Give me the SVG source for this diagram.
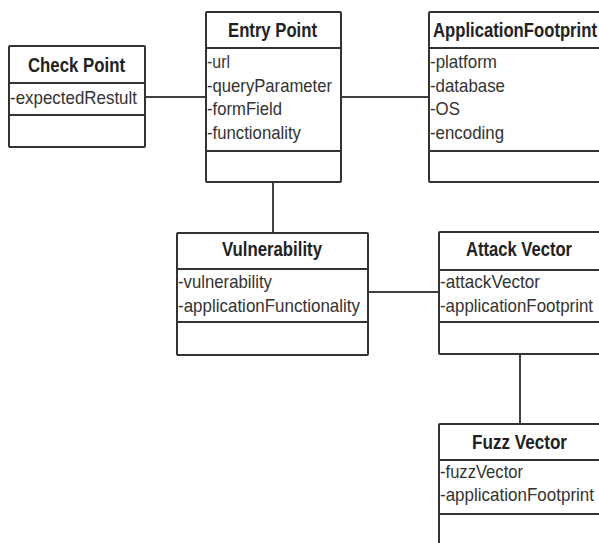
<svg xmlns="http://www.w3.org/2000/svg" width="599" height="543" viewBox="0 0 599 543">
  <style>
    .box { fill: #ffffff; stroke: #333333; stroke-width: 2; }
    .div { stroke: #333333; stroke-width: 2; fill: none; }
    .conn { stroke: #404040; stroke-width: 2; fill: none; }
    .title { font-family: "Liberation Sans", Arial, sans-serif; font-weight: bold; font-size: 20px; fill: #222222; }
    .attr { font-family: "Liberation Sans", Arial, sans-serif; font-size: 19px; fill: #333333; }
  </style>
  <rect width="599" height="543" fill="#ffffff"/>

  <!-- associations -->
  <g id="connectors">
    <line class="conn" x1="145" y1="97" x2="206" y2="97"/>
    <line class="conn" x1="341" y1="97" x2="429" y2="97"/>
    <line class="conn" x1="273" y1="182" x2="273" y2="233"/>
    <line class="conn" x1="368" y1="292" x2="439" y2="292"/>
    <line class="conn" x1="520" y1="354" x2="520" y2="424"/>
  </g>

  <g id="check-point">
    <rect class="box" x="9" y="46" width="136" height="101" rx="1"/>
    <line class="div" x1="9" y1="83" x2="145" y2="83"/>
    <line class="div" x1="9" y1="115" x2="145" y2="115"/>
    <text class="title" x="28" y="71.5" textLength="97" lengthAdjust="spacingAndGlyphs">Check Point</text>
    <text class="attr" x="10" y="104" textLength="127" lengthAdjust="spacingAndGlyphs">-expectedRestult</text>
  </g>

  <g id="entry-point">
    <rect class="box" x="206" y="12" width="135" height="170" rx="1"/>
    <line class="div" x1="206" y1="48" x2="341" y2="48"/>
    <line class="div" x1="206" y1="151" x2="341" y2="151"/>
    <text class="title" x="228" y="36.5" textLength="89" lengthAdjust="spacingAndGlyphs">Entry Point</text>
    <text class="attr" x="207" y="68" textLength="23" lengthAdjust="spacingAndGlyphs">-url</text>
    <text class="attr" x="207" y="91.5" textLength="125" lengthAdjust="spacingAndGlyphs">-queryParameter</text>
    <text class="attr" x="207" y="115" textLength="75" lengthAdjust="spacingAndGlyphs">-formField</text>
    <text class="attr" x="207" y="138.5" textLength="94" lengthAdjust="spacingAndGlyphs">-functionality</text>
  </g>

  <g id="application-footprint">
    <rect class="box" x="429" y="12" width="180" height="170" rx="1"/>
    <line class="div" x1="429" y1="48" x2="609" y2="48"/>
    <line class="div" x1="429" y1="151" x2="609" y2="151"/>
    <text class="title" x="433" y="36.5" textLength="164" lengthAdjust="spacingAndGlyphs">ApplicationFootprint</text>
    <text class="attr" x="430" y="68" textLength="67" lengthAdjust="spacingAndGlyphs">-platform</text>
    <text class="attr" x="430" y="91.5" textLength="75" lengthAdjust="spacingAndGlyphs">-database</text>
    <text class="attr" x="430" y="115" textLength="30" lengthAdjust="spacingAndGlyphs">-OS</text>
    <text class="attr" x="430" y="138.5" textLength="74" lengthAdjust="spacingAndGlyphs">-encoding</text>
  </g>

  <g id="vulnerability">
    <rect class="box" x="177" y="233" width="191" height="122" rx="1"/>
    <line class="div" x1="177" y1="269" x2="368" y2="269"/>
    <line class="div" x1="177" y1="322" x2="368" y2="322"/>
    <text class="title" x="222" y="256" textLength="100" lengthAdjust="spacingAndGlyphs">Vulnerability</text>
    <text class="attr" x="178" y="288" textLength="94" lengthAdjust="spacingAndGlyphs">-vulnerability</text>
    <text class="attr" x="178" y="311.5" textLength="182" lengthAdjust="spacingAndGlyphs">-applicationFunctionality</text>
  </g>

  <g id="attack-vector">
    <rect class="box" x="439" y="232" width="170" height="122" rx="1"/>
    <line class="div" x1="439" y1="270" x2="609" y2="270"/>
    <line class="div" x1="439" y1="322" x2="609" y2="322"/>
    <text class="title" x="466" y="256" textLength="106" lengthAdjust="spacingAndGlyphs">Attack Vector</text>
    <text class="attr" x="440" y="288" textLength="100" lengthAdjust="spacingAndGlyphs">-attackVector</text>
    <text class="attr" x="440" y="311.5" textLength="153" lengthAdjust="spacingAndGlyphs">-applicationFootprint</text>
  </g>

  <g id="fuzz-vector">
    <rect class="box" x="439" y="424" width="170" height="140" rx="1"/>
    <line class="div" x1="439" y1="460" x2="609" y2="460"/>
    <line class="div" x1="439" y1="514" x2="609" y2="514"/>
    <text class="title" x="472" y="449" textLength="95" lengthAdjust="spacingAndGlyphs">Fuzz Vector</text>
    <text class="attr" x="440" y="478" textLength="83" lengthAdjust="spacingAndGlyphs">-fuzzVector</text>
    <text class="attr" x="440" y="501" textLength="154" lengthAdjust="spacingAndGlyphs">-applicationFootprint</text>
  </g>
</svg>
